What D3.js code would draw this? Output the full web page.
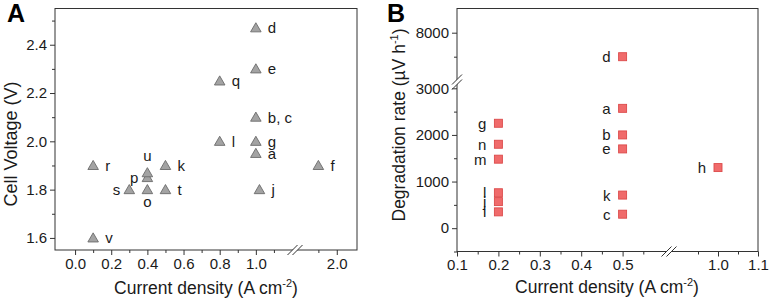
<!DOCTYPE html>
<html>
<head>
<meta charset="utf-8">
<script src="https://cdn.jsdelivr.net/npm/d3@7"></script>
<style>
  body { margin: 0; background: #fff; }
  svg { font-family: "Liberation Sans", Arial, sans-serif; }
  .tick text { font-size: 15px; fill: #1a1a1a; }
  .tick line { stroke: #333; }
</style>
</head>
<body>
<div class="chart"></div>
<script>
// ---- panel A data: cell voltage vs current density ----
const labelsA  = ['a', 'b, c', 'd', 'e', 'f', 'g', 'j', 'k', 'l', 'o', 'p', 'q', 'r', 's', 't', 'u', 'v']
const currentA = [1.0, 1.0, 1.0, 1.0, 1.9, 1.0, 1.02, 0.5, 0.8, 0.4, 0.4, 0.8, 0.1, 0.3, 0.5, 0.4, 0.1]
const voltageA = [1.95, 2.1, 2.47, 2.3, 1.9, 2.0, 1.8, 1.9, 2.0, 1.8, 1.85, 2.25, 1.9, 1.8, 1.8, 1.87, 1.6]
const xTicksA  = [0, 0.2, 0.4, 0.6, 0.8, 1.0]
const xTicksA2 = [2.0]
const yTicksA  = [1.6, 1.8, 2.0, 2.2, 2.4]

// ---- panel B data: degradation rate vs current density ----
const labelsB  = ['a', 'b', 'c', 'd', 'e', 'g', 'h', 'i', 'j', 'k', 'l', 'm', 'n']
const currentB = [0.5, 0.5, 0.5, 0.5, 0.5, 0.2, 1.0, 0.2, 0.2, 0.5, 0.2, 0.2, 0.2]
const rateB    = [2570, 2000, 300, 7000, 1700, 2250, 1300, 350, 570, 710, 760, 1480, 1800]
const xTicksB  = [0.1, 0.2, 0.3, 0.4, 0.5]
const xTicksB2 = [1.0, 1.1]
const yTicksB  = [0, 1000, 2000, 3000]
const yTicksB2 = [8000]

const svg = d3.select('.chart').append('svg')
  .attr('width', 770)
  .attr('height', 302)

const fmt1 = d3.format('.1f')

// two-piece scale helper for broken axes
const split = (s1, s2, cut) => v => (v <= cut ? s1(v) : s2(v))

// draws a "//" break mark centered on (cx, cy)
const breakMark = (g, cx, cy, vertical) => {
  const d = 4
  const offs = vertical ? [[0, -2.5], [0, 2.5]] : [[-2.5, 0], [2.5, 0]]
  g.append('polygon')
    .attr('points', [[cx + offs[0][0] - d, cy + offs[0][1] + d], [cx + offs[0][0] + d, cy + offs[0][1] - d],
                     [cx + offs[1][0] + d, cy + offs[1][1] - d], [cx + offs[1][0] - d, cy + offs[1][1] + d]].join(' '))
    .attr('fill', '#fff')
  offs.forEach(o => {
    g.append('line')
      .attr('x1', cx + o[0] - d - 1).attr('y1', cy + o[1] + d + 1)
      .attr('x2', cx + o[0] + d + 1).attr('y2', cy + o[1] - d - 1)
      .attr('stroke', '#333')
  })
}

const tickAxis = (g, axis) => {
  g.call(axis)
  g.select('.domain').remove()
}

// ================= PANEL A =================
const A = { left: 55, right: 357, top: 8.5, bottom: 250 }
const xA1 = d3.scaleLinear().domain([-0.1, 1.2]).range([57, 292])
const xA2 = d3.scaleLinear().domain([1.8, 2.11]).range([300, 357])
const xA = split(xA1, xA2, 1.5)
const yA = d3.scaleLinear().domain([1.55, 2.55]).range([A.bottom, A.top])

const gA = svg.append('g')
gA.append('rect')
  .attr('x', A.left).attr('y', A.top)
  .attr('width', A.right - A.left).attr('height', A.bottom - A.top)
  .attr('fill', 'none').attr('stroke', '#333')

tickAxis(gA.append('g').attr('transform', `translate(0,${A.bottom})`),
  d3.axisBottom(xA1).tickValues(xTicksA).tickSize(5).tickPadding(3).tickFormat(fmt1))
tickAxis(gA.append('g').attr('transform', `translate(0,${A.bottom})`),
  d3.axisBottom(xA1).tickValues([0.1, 0.3, 0.5, 0.7, 0.9, 1.1]).tickSize(3).tickFormat(''))
tickAxis(gA.append('g').attr('transform', `translate(0,${A.bottom})`),
  d3.axisBottom(xA2).tickValues(xTicksA2).tickSize(5).tickPadding(3).tickFormat(fmt1))
tickAxis(gA.append('g').attr('transform', `translate(0,${A.bottom})`),
  d3.axisBottom(xA2).tickValues([1.9]).tickSize(3).tickFormat(''))
tickAxis(gA.append('g').attr('transform', `translate(${A.left},0)`),
  d3.axisLeft(yA).tickValues(yTicksA).tickSize(5).tickPadding(3).tickFormat(fmt1))
tickAxis(gA.append('g').attr('transform', `translate(${A.left},0)`),
  d3.axisLeft(yA).tickValues([1.7, 1.9, 2.1, 2.3, 2.5]).tickSize(3).tickFormat(''))

breakMark(gA, 295, A.bottom, false)

// triangles
const tri = d3.symbol().type(d3.symbolTriangle).size(48)
const sideA = { o: 'below', p: 'left', s: 'left', u: 'above' }
labelsA.forEach((lab, i) => {
  const cx = xA(currentA[i]), cy = yA(voltageA[i])
  gA.append('path')
    .attr('d', tri())
    .attr('transform', `translate(${cx},${cy + 1})`)
    .attr('fill', '#a3a3a3').attr('stroke', '#6b6b6b').attr('stroke-width', 0.9)
  const side = sideA[lab] || 'right'
  const t = gA.append('text').text(lab)
    .attr('font-size', 15).attr('fill', '#1a1a1a')
  if (side === 'right') t.attr('x', cx + 12).attr('y', cy + 5.5)
  if (side === 'left') t.attr('x', cx - 9).attr('y', cy + 5.5).attr('text-anchor', 'end')
  if (side === 'above') t.attr('x', cx).attr('y', cy - 12).attr('text-anchor', 'middle')
  if (side === 'below') t.attr('x', cx).attr('y', cy + 17).attr('text-anchor', 'middle')
})

// axis titles A
gA.append('text')
  .attr('transform', 'translate(17,144) rotate(-90)')
  .attr('text-anchor', 'middle').attr('font-size', 18).attr('fill', '#1a1a1a')
  .text('Cell Voltage (V)')
const xtA = gA.append('text')
  .attr('x', 206).attr('y', 294)
  .attr('text-anchor', 'middle').attr('font-size', 17.5).attr('fill', '#1a1a1a')
xtA.append('tspan').text('Current density (A cm')
xtA.append('tspan').text('-2').attr('font-size', 11).attr('dy', -7)
xtA.append('tspan').text(')').attr('dy', 7)

gA.append('text').attr('x', 7).attr('y', 22)
  .attr('font-size', 25).attr('font-weight', 'bold').text('A')

// ================= PANEL B =================
const B = { left: 457, right: 758, top: 8.5, bottom: 251.5 }
const xB1 = d3.scaleLinear().domain([0.1, 0.6]).range([B.left, 664])
const xB2 = d3.scaleLinear().domain([0.9, 1.1]).range([678, B.right])
const xB = split(xB1, xB2, 0.75)
const yB1 = d3.scaleLinear().domain([-500, 3000]).range([B.bottom, 88.3])
const yB2 = d3.scaleLinear().domain([6000, 9000]).range([80.7, 8.7])
const yB = split(yB1, yB2, 4500)

const gB = svg.append('g')
gB.append('rect')
  .attr('x', B.left).attr('y', B.top)
  .attr('width', B.right - B.left).attr('height', B.bottom - B.top)
  .attr('fill', 'none').attr('stroke', '#333')

tickAxis(gB.append('g').attr('transform', `translate(0,${B.bottom})`),
  d3.axisBottom(xB1).tickValues(xTicksB).tickSize(5).tickPadding(3).tickFormat(fmt1))
tickAxis(gB.append('g').attr('transform', `translate(0,${B.bottom})`),
  d3.axisBottom(xB1).tickValues([0.15, 0.25, 0.35, 0.45, 0.55]).tickSize(3).tickFormat(''))
tickAxis(gB.append('g').attr('transform', `translate(0,${B.bottom})`),
  d3.axisBottom(xB2).tickValues(xTicksB2).tickSize(5).tickPadding(3).tickFormat(fmt1))
tickAxis(gB.append('g').attr('transform', `translate(0,${B.bottom})`),
  d3.axisBottom(xB2).tickValues([0.95, 1.05]).tickSize(3).tickFormat(''))
tickAxis(gB.append('g').attr('transform', `translate(${B.left},0)`),
  d3.axisLeft(yB1).tickValues(yTicksB).tickSize(5).tickPadding(3).tickFormat(d3.format('d')))
tickAxis(gB.append('g').attr('transform', `translate(${B.left},0)`),
  d3.axisLeft(yB1).tickValues([-500, 500, 1500, 2500]).tickSize(3).tickFormat(''))
tickAxis(gB.append('g').attr('transform', `translate(${B.left},0)`),
  d3.axisLeft(yB2).tickValues(yTicksB2).tickSize(5).tickPadding(3).tickFormat(d3.format('d')))
tickAxis(gB.append('g').attr('transform', `translate(${B.left},0)`),
  d3.axisLeft(yB2).tickValues([7000]).tickSize(3).tickFormat(''))

breakMark(gB, 669, B.bottom, false)
breakMark(gB, B.left, 82, true)

labelsB.forEach((lab, i) => {
  const cx = xB(currentB[i]), cy = yB(rateB[i])
  gB.append('rect')
    .attr('x', cx - 4).attr('y', cy - 4)
    .attr('width', 8).attr('height', 8)
    .attr('fill', '#f06b6b').attr('stroke', '#dc4a4a').attr('stroke-width', 0.9)
  gB.append('text').text(lab)
    .attr('x', cx - 12).attr('y', cy + 5.5)
    .attr('text-anchor', 'end')
    .attr('font-size', 15).attr('fill', '#1a1a1a')
})

// axis titles B
const ytB = gB.append('text')
  .attr('transform', 'translate(405,125) rotate(-90)')
  .attr('text-anchor', 'middle').attr('font-size', 17.5).attr('fill', '#1a1a1a')
ytB.append('tspan').text('Degradation rate (\u00B5V h')
ytB.append('tspan').text('-1').attr('font-size', 11).attr('dy', -7)
ytB.append('tspan').text(')').attr('dy', 7)

const xtB = gB.append('text')
  .attr('x', 607).attr('y', 293)
  .attr('text-anchor', 'middle').attr('font-size', 17.5).attr('fill', '#1a1a1a')
xtB.append('tspan').text('Current density (A cm')
xtB.append('tspan').text('-2').attr('font-size', 11).attr('dy', -7)
xtB.append('tspan').text(')').attr('dy', 7)

gB.append('text').attr('x', 387).attr('y', 22)
  .attr('font-size', 25).attr('font-weight', 'bold').text('B')
</script>
</body>
</html>
